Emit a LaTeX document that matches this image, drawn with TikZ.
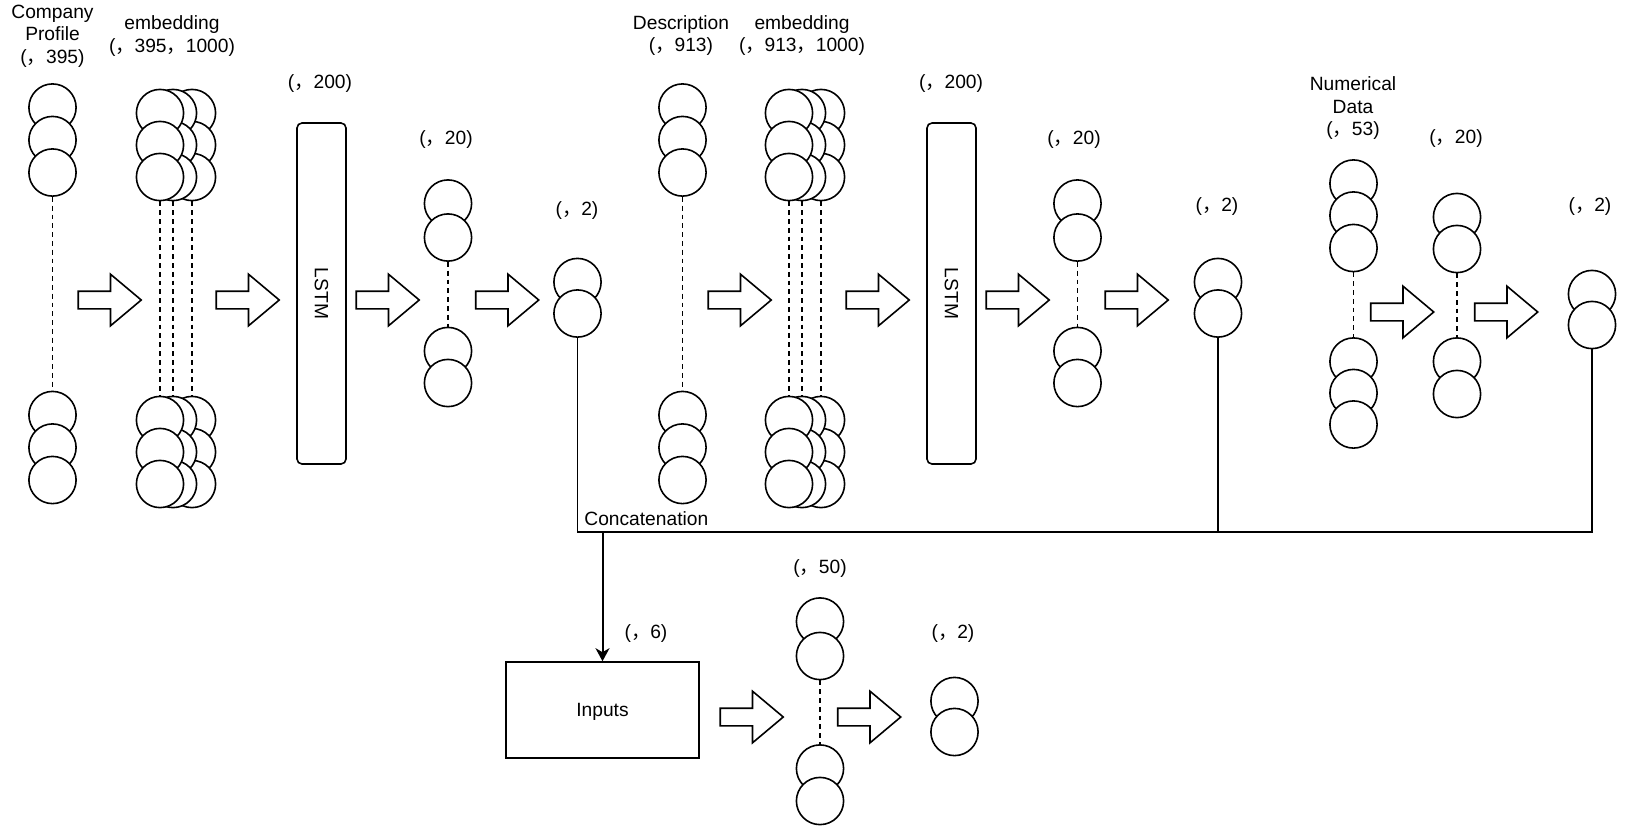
\documentclass[tikz,border=0pt]{standalone}
\usepackage{fontspec}
\setmainfont{Liberation Sans}
\newfontfamily\cjk{Noto Sans CJK SC}
\usetikzlibrary{shapes.arrows, arrows.meta, positioning}
\newcommand{\fc}{{\cjk ，}}

\tikzset{
  neuron/.style={circle, draw, fill=white, minimum size=23.6pt, inner sep=0pt, line width=0.8pt},
  flow/.style={single arrow, draw, line width=0.8pt, minimum height=31.5pt, inner sep=4pt,
    single arrow head extend=8.5pt, single arrow tip angle=80},
  lstmbox/.style={draw, rounded corners=2.5pt, minimum width=24.5pt, minimum height=170.5pt,
    inner sep=0pt, line width=0.8pt},
  inbox/.style={draw, minimum width=96.5pt, minimum height=48pt, text depth=0pt, line width=0.8pt},
  dotline/.style={line width=0.8pt, dash pattern=on 2.4pt off 2pt},
  wire/.style={line width=0.7pt},
  feed/.style={line width=1pt, -{Stealth[length=6.5pt, width=7pt, inset=2pt]}},
  lbl/.style={align=center, inner sep=0pt}
}

\begin{document}
\begin{tikzpicture}[x=0.5pt, y=-0.5pt, font=\fontsize{9.6}{11.25}\selectfont]
    \useasboundingbox (0,0) rectangle (1642,826);

    % input layers
    \foreach \y [count=\i] in {107.5,140,172.5,415,447.5,480} {
        \node[neuron] (cp\i) at (52.5,\y) {};
        \node[neuron] (ds\i) at (682.5,\y) {};
    }
    \foreach \y [count=\i] in {183.5,215.5,248,361.5,393,424.5}
        \node[neuron] (nd\i) at (1353.5,\y) {};

    % embeddings, back column first
    \foreach \dx/\c in {32/c,13/b,0/a}
        \foreach \y [count=\i] in {113,145,177,420,452,484} {
            \node[neuron] (pe\c\i) at (160+\dx,\y) {};
            \node[neuron] (de\c\i) at (789+\dx,\y) {};
        }

    % dense layers
    \foreach \y [count=\i] in {203.5,237.5,351,383} {
        \node[neuron] (ha\i) at (448,\y) {};
        \node[neuron] (hb\i) at (1077.5,\y) {};
    }
    \foreach \y [count=\i] in {217,249,361.5,394}
        \node[neuron] (hc\i) at (1457,\y) {};
    \foreach \y [count=\i] in {621.5,656,768.5,801}
        \node[neuron] (hd\i) at (820,\y) {};

    % outputs
    \foreach \y [count=\i] in {282,313.5} {
        \node[neuron] (oa\i) at (577.5,\y) {};
        \node[neuron] (ob\i) at (1218,\y) {};
    }
    \node[neuron] (oc1) at (1592,294) {};
    \node[neuron] (oc2) at (1592,325) {};
    \node[neuron] (od1) at (954.5,701) {};
    \node[neuron] (od2) at (954.5,732) {};

    \node[lstmbox] (lstma) at (321.5,293.5) {\rotatebox{-90}{LSTM}};
    \node[lstmbox] (lstmb) at (951.5,293.5) {\rotatebox{-90}{LSTM}};
    \node[inbox] (inputs) at (602.5,710) {Inputs};

    \foreach \x/\y [count=\i] in {104.5/300,242.5/300,382.5/300,502/300,734.5/300,872.5/300,
        1012.5/300,1131.5/300,1397/312,1501/312,746.5/717,864/717}
        \node[flow] (fl\i) at (\x,\y) {};

    \foreach \g in {cp,ds,nd,pea,peb,pec,dea,deb,dec}
        \draw[dotline] (\g3) -- (\g4);
    \foreach \g in {ha,hb,hc,hd}
        \draw[dotline] (\g2) -- (\g3);

    % concatenation
    \coordinate (cat) at (602.5,532);
    \draw[wire] (oa2) |- (cat) -| (oc2);
    \draw[wire] (ob2) -- (ob2 |- cat);
    \draw[feed] (cat) -- (inputs);

    \node[lbl] (tcp) at (52.5,36) {Company\\Profile\\(\fc 395)};
    \node[lbl] (tpe) at (172,36) {embedding\\(\fc 395\fc 1000)};
    \node[lbl] (tla) at (320,83.5) {(\fc 200)};
    \node[lbl] (tha) at (446,139.5) {(\fc 20)};
    \node[lbl] (toa) at (577,211) {(\fc 2)};
    \node[lbl] (tds) at (681,35.5) {Description\\(\fc 913)};
    \node[lbl] (tde) at (802,35.5) {embedding\\(\fc 913\fc 1000)};
    \node[lbl] (tlb) at (951,83.5) {(\fc 200)};
    \node[lbl] (thb) at (1074,139.5) {(\fc 20)};
    \node[lbl] (tob) at (1217,206.5) {(\fc 2)};
    \node[lbl] (tnd) at (1353,108.5) {Numerical\\Data\\(\fc 53)};
    \node[lbl] (thc) at (1456,138.5) {(\fc 20)};
    \node[lbl] (toc) at (1590,206.5) {(\fc 2)};
    \node[lbl, anchor=west] (tcat) at (584,518.5) {Concatenation};
    \node[lbl] (tin) at (646,633.5) {(\fc 6)};
    \node[lbl] (thd) at (820,568.5) {(\fc 50)};
    \node[lbl] (tod) at (953,633.5) {(\fc 2)};
\end{tikzpicture}
\end{document}
